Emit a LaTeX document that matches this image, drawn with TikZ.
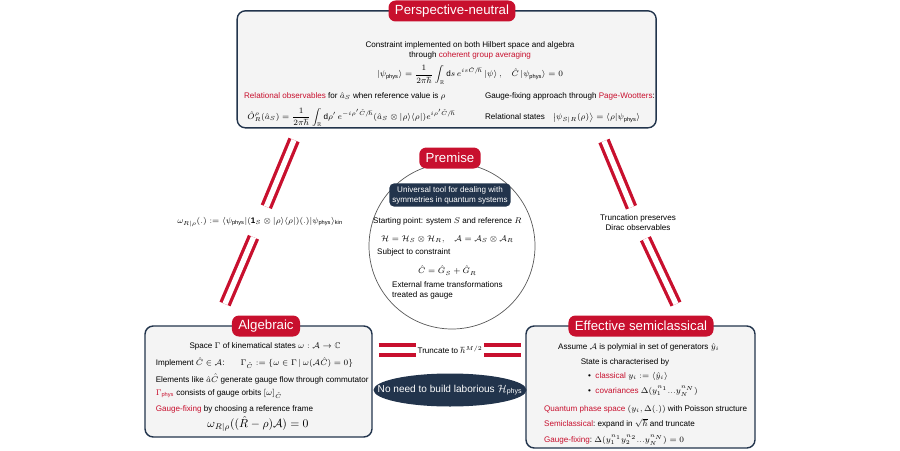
\documentclass[tikz,border=0pt]{standalone}
\usepackage{amsmath,amssymb}
\usepackage{fontspec}
\setmainfont{Liberation Sans}
\usetikzlibrary{positioning}
\usetikzlibrary{shapes.geometric}

\definecolor{crimson}{HTML}{C8102E}
\definecolor{navy}{HTML}{22344C}
\definecolor{panelgray}{HTML}{F4F4F4}

\newcommand{\hl}[1]{\textcolor{crimson}{#1}}

\tikzset{
    every node/.style={
        font=\fontsize{6.9}{8.4}\selectfont},
    panel/.style={
        draw=navy,
        fill=panelgray,
        line width=1.2pt,
        rounded corners=7pt},
    tag/.style={
        fill=crimson,
        text=white,
        rounded corners=6pt,
        inner xsep=5.5pt,
        minimum height=0.63cm,
        font=\fontsize{11.3}{13}\selectfont},
    darkbox/.style={
        fill=navy,
        text=white,
        rounded corners=4pt,
        align=center,
        inner sep=2.5pt},
    link/.style={
        draw=crimson,
        line width=2.8pt,
        double=white,
        double distance=4.6pt}}

\begin{document}
\begin{tikzpicture}
    \useasboundingbox (0,0) rectangle (27,13.5);

    % perspective-neutral
    \node[panel, minimum width=12.57cm, minimum height=3.51cm] (neutral) at (13.4,11.42) {};
    \node[tag] (neutraltag) at (13.56,13.17) {Perspective-neutral};
    \node[align=center] (averaging) at (14.1,12.0) {Constraint implemented on both Hilbert space and algebra\\through \hl{coherent group averaging}};
    \node (physstate) at (14.1,11.25) {$\displaystyle |\psi_{\text{phys}}\rangle = \frac{1}{2\pi\hbar}\int_{\mathbb{R}}\mathrm{d}s\,e^{is\hat C/\hbar}\,|\psi\rangle\,,\quad \hat C\,|\psi_{\text{phys}}\rangle = 0$};
    \node[anchor=west] (relobs) at (7.2,10.62) {\hl{Relational observables} for $\hat a_S$ when reference value is $\rho$};
    \node[anchor=west] (obsformula) at (7.3,9.98) {$\displaystyle \hat O^{\rho}_R(\hat a_S) = \frac{1}{2\pi\hbar}\int_{\mathbb{R}}\mathrm{d}\rho'\,e^{-i\rho'\hat C/\hbar}(\hat a_S\otimes|\rho\rangle\langle\rho|)e^{i\rho'\hat C/\hbar}$};
    \node[anchor=west] (pagewootters) at (14.43,10.62) {Gauge-fixing approach through \hl{Page-Wootters}:};
    \node[anchor=west] (relstates) at (14.43,9.96) {Relational states\quad $\left|\psi_{S|R}(\rho)\right\rangle = \langle\rho|\psi_{\text{phys}}\rangle$};

    % premise
    \node[circle, draw=gray!70!black, line width=0.6pt, minimum size=4.98cm] (premise) at (13.56,6.12) {};
    \node[tag] (premisetag) at (13.5,8.76) {Premise};
    \node[darkbox] (universal) at (13.5,7.65) {Universal tool for dealing with\\symmetries in quantum systems};
    \node (startpoint) at (13.42,6.87) {Starting point: system $S$ and reference $R$};
    \node (hilbert) at (13.42,6.33) {$\mathcal{H} = \mathcal{H}_S\otimes\mathcal{H}_R,\quad \mathcal{A} = \mathcal{A}_S\otimes\mathcal{A}_R$};
    \node[anchor=west] (subject) at (11.19,5.93) {Subject to constraint};
    \node (constraint) at (13.42,5.38) {$\hat C = \hat G_S + \hat G_R$};
    \node[anchor=west, align=left] (external) at (11.64,4.8) {External frame transformations\\treated as gauge};

    % algebraic
    \node[panel, minimum width=6.81cm, minimum height=3.33cm] (algebraic) at (7.755,2.055) {};
    \node[tag] (algebraictag) at (7.98,3.72) {Algebraic};
    \node (kinematical) at (7.95,3.12) {Space $\Gamma$ of kinematical states $\omega:\mathcal{A}\to\mathbb{C}$};
    \node[anchor=west] (implement) at (4.55,2.61) {Implement $\hat C\in\mathcal{A}$:\qquad $\Gamma_{\hat C} := \{\omega\in\Gamma\,|\,\omega(\mathcal{A}\hat C)=0\}$};
    \node[anchor=west] (elements) at (4.55,2.13) {Elements like $\hat a\hat C$ generate gauge flow through commutator};
    \node[anchor=west] (orbits) at (4.55,1.68) {\hl{$\Gamma_{\text{phys}}$} consists of gauge orbits $[\omega]_{\hat C}$};
    \node[anchor=west] (algfixing) at (4.55,1.23) {\hl{Gauge-fixing} by choosing a reference frame};
    \node[font=\fontsize{10}{12}\selectfont] (algcondition) at (7.74,0.78) {$\omega_{R|\rho}((\hat R-\rho)\mathcal{A}) = 0$};

    % effective semiclassical
    \node[panel, minimum width=6.87cm, minimum height=3.66cm] (effective) at (19.215,1.89) {};
    \node[tag] (effectivetag) at (19.23,3.72) {Effective semiclassical};
    \node (assume) at (19.16,3.09) {Assume $\mathcal{A}$ is polymial in set of generators $\hat y_i$};
    \node (characterised) at (18.75,2.64) {State is characterised by};
    \node[anchor=west] (classical) at (17.52,2.22) {\textbullet\ \ \hl{classical} $y_i := \langle\hat y_i\rangle$};
    \node[anchor=west] (covariances) at (17.52,1.77) {\textbullet\ \ \hl{covariances} $\Delta(y_1^{n_1}...y_N^{n_N})$};
    \node[anchor=west] (phasespace) at (16.2,1.23) {\hl{Quantum phase space} $(y_i,\Delta(.))$ with Poisson structure};
    \node[anchor=west] (semiclassical) at (16.2,0.8) {\hl{Semiclassical}:\ expand in $\sqrt{\hbar}$ and truncate};
    \node[anchor=west] (efffixing) at (16.2,0.3) {\hl{Gauge-fixing}:\ $\Delta(y_1^{n_1}y_2^{n_2}...y_N^{n_N}) = 0$};

    % links
    \coordinate (leftup) at (8.82,9.3);
    \coordinate (leftdown) at (6.75,4.38);
    \node[minimum height=0.9cm] (gns) at (7.8,6.84) {$\omega_{R|\rho}(.) := \langle\psi_{\text{phys}}|(\mathbf{1}_S\otimes|\rho\rangle\langle\rho|)(.)|\psi_{\text{phys}}\rangle_{\text{kin}}$};
    \draw[link] (leftup) -- (gns);
    \draw[link] (gns) -- (leftdown);

    \coordinate (rightup) at (18.12,9.27);
    \coordinate (rightdown) at (20.28,4.38);
    \node[align=center, minimum height=0.93cm] (dirac) at (19.14,6.81) {Truncation preserves\\Dirac observables};
    \draw[link] (rightup) -- (dirac);
    \draw[link] (dirac) -- (rightdown);

    \node[inner xsep=1pt] (truncate) at (13.5,3.0) {Truncate to $\hbar^{M/2}$};
    \draw[link, double distance=5.7pt, shorten <=0.18cm] (algebraic.east |- truncate) -- (truncate);
    \draw[link, double distance=5.7pt, shorten >=0.12cm] (truncate) -- (effective.west |- truncate);

    \node[ellipse, fill=navy, text=white, minimum width=4.59cm, minimum height=0.99cm, inner xsep=-16pt, inner ysep=0pt, font=\fontsize{8.6}{10}\selectfont] (laborious) at (13.5,1.8) {No need to build laborious $\mathcal{H}_{\text{phys}}$};
\end{tikzpicture}
\end{document}
